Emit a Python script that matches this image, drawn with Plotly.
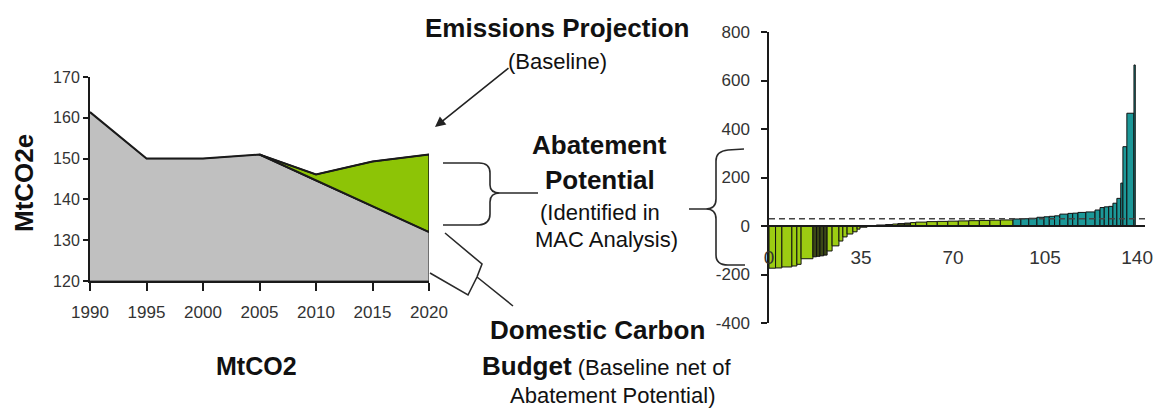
import plotly.graph_objects as go

W, H = 1164, 412

# ---------------- Emissions chart (left) ----------------
hist_years = [1990, 1995, 2000, 2005]
hist_emissions = [161.4, 150.0, 150.0, 151.0]

proj_years = [2005, 2010, 2015, 2020]
baseline_projection = [151.0, 146.1, 149.3, 151.0]
carbon_budget = [151.0, 144.6, 138.2, 132.0]

left_y_ticks = [120, 130, 140, 150, 160, 170]
left_x_ticks = [1990, 1995, 2000, 2005, 2010, 2015, 2020]

# ---------------- MAC curve (right) ----------------
# abatement volume (MtCO2e) and cost of each measure, in merit order
mac_width = [2.5, 2.4, 3.8, 1.9, 1.6, 4.5, 1.4, 1.3, 1.4, 1.3, 1.9, 2.6, 1.5, 1.6,
             2.2, 1.6, 1.1, 2.7,
             3.5, 3.5, 2.7, 2.0, 2.5, 2.3, 2.0,
             4.2, 4.0, 4.0, 4.0, 4.0, 4.0, 4.0, 4.0, 4.8,
             3.0, 3.0, 3.1, 2.7, 2.0, 2.0, 2.0, 3.1, 1.8, 2.0, 3.0, 3.5, 1.9,
             1.6, 1.7, 1.6, 1.5, 1.5, 0.8, 1.5, 2.7, 0.5]
mac_cost = [-174, -173, -169, -165, -158, -135, -127, -125, -123, -120, -103, -82, -62, -45,
            -33, -24, -13, -5,
            2, 4, 6, 8, 10, 12, 14,
            16, 18, 19, 20, 21, 22, 23, 24, 25,
            29, 30, 32, 36, 38, 40, 42, 49, 52, 53, 56, 58, 66,
            76, 79, 81, 94, 114, 177, 327, 465, 664]
mac_sector = ["g", "g", "g", "g", "g", "g", "d", "d", "d", "d", "g", "g", "g", "g",
              "g", "g", "g", "g",
              "d", "d", "d", "g", "d", "d", "g",
              "g", "g", "g", "g", "g", "g", "g", "g", "g",
              "t", "t", "t", "t", "t", "t", "t", "t", "t", "t", "t", "t", "t",
              "t", "t", "t", "t", "t", "t", "t", "t", "t"]
carbon_price = 30

mac_y_ticks = [-400, -200, 0, 200, 400, 600, 800]
mac_x_ticks = [0, 35, 70, 105, 140]

sector_colors = {"g": "#9ccc12", "d": "#3b4716", "t": "#1c9898"}

FONT = "Arial, Liberation Sans, Helvetica, sans-serif"
INK = "#1a1a1a"


def px(x):
    return x / W


def py(y):
    return 1 - y / H


fig = go.Figure()

# grey area: history then the domestic carbon budget
budget_x = hist_years + proj_years[1:]
budget_y = hist_emissions + carbon_budget[1:]
floor = left_y_ticks[0]
fig.add_trace(go.Scatter(
    x=budget_x + [budget_x[-1], budget_x[0]],
    y=budget_y + [floor, floor],
    fill="toself", fillcolor="#c0c0c0",
    line=dict(color="#3a3a3a", width=1.2),
    mode="lines", hoverinfo="skip", xaxis="x", yaxis="y"))

# green wedge: abatement potential between projection and budget
fig.add_trace(go.Scatter(
    x=proj_years + proj_years[::-1],
    y=baseline_projection + carbon_budget[::-1],
    fill="toself", fillcolor="#8dc406",
    line=dict(color=INK, width=1.5),
    mode="lines", hoverinfo="skip", xaxis="x", yaxis="y"))

# heavier outlines for the trajectories
fig.add_trace(go.Scatter(
    x=hist_years + proj_years[1:], y=hist_emissions + baseline_projection[1:],
    mode="lines", line=dict(color=INK, width=2), hoverinfo="skip",
    xaxis="x", yaxis="y"))
fig.add_trace(go.Scatter(
    x=proj_years, y=carbon_budget,
    mode="lines", line=dict(color=INK, width=2), hoverinfo="skip",
    xaxis="x", yaxis="y"))

# MAC curve bars
lefts = []
acc = 0.0
for w in mac_width:
    lefts.append(acc)
    acc += w
centers = [l + w / 2 for l, w in zip(lefts, mac_width)]
fig.add_trace(go.Bar(
    x=centers, y=mac_cost, width=mac_width,
    marker=dict(color=[sector_colors[s] for s in mac_sector],
                line=dict(color="#111111", width=1)),
    hoverinfo="skip", xaxis="x2", yaxis="y2"))

left_xdom = [px(90), px(429)]
left_ydom = [py(281), py(77)]
right_xdom = [px(769), px(1145)]
right_ydom = [py(323), py(32)]
zero_frac = right_ydom[0] + (right_ydom[1] - right_ydom[0]) * (0 - mac_y_ticks[0]) / (mac_y_ticks[-1] - mac_y_ticks[0])

fig.update_layout(
    width=W, height=H,
    margin=dict(l=0, r=0, t=0, b=0, autoexpand=False),
    paper_bgcolor="white", plot_bgcolor="white",
    showlegend=False, barmode="overlay",
    font=dict(family=FONT, color="#333333"),
    xaxis=dict(domain=left_xdom, range=[left_x_ticks[0], left_x_ticks[-1]],
               tickvals=left_x_ticks, ticks="outside", ticklen=8, tickwidth=2,
               tickcolor=INK, showline=True, linecolor=INK, linewidth=2,
               showgrid=False, zeroline=False, tickfont=dict(size=17, color="#333"),
               ticklabelstandoff=7, anchor="y", automargin=False),
    yaxis=dict(domain=left_ydom, range=[left_y_ticks[0], left_y_ticks[-1]],
               tickvals=left_y_ticks, ticks="outside", ticklen=5, tickwidth=2,
               tickcolor=INK, showline=True, linecolor=INK, linewidth=2,
               showgrid=False, zeroline=False, tickfont=dict(size=16, color="#333"),
               anchor="x", automargin=False),
    xaxis2=dict(domain=right_xdom, range=[0, 143], tickvals=mac_x_ticks,
                ticks="", showline=True, linecolor=INK, linewidth=1.5,
                showgrid=False, zeroline=False, anchor="free", position=zero_frac,
                tickfont=dict(size=19, color="#333"), ticklabelstandoff=14,
                automargin=False),
    yaxis2=dict(domain=right_ydom, range=[mac_y_ticks[0], mac_y_ticks[-1]],
                tickvals=mac_y_ticks, ticktext=[str(v) for v in mac_y_ticks],
                ticks="outside", ticklen=6, tickwidth=1.5, tickcolor=INK,
                showline=True, linecolor=INK, linewidth=1.5, showgrid=False,
                zeroline=False, tickfont=dict(size=17, color="#333"),
                ticklabelstandoff=8, anchor="x2", automargin=False),
)

# carbon price reference line
fig.add_shape(type="line", xref="x2", yref="y2", x0=0, x1=143,
              y0=carbon_price, y1=carbon_price, layer="above",
              line=dict(color="#444444", width=1.5, dash="6px,4px"))

shape_line = dict(color="#2a2a2a", width=1.6)


def P(x, y):
    return f"{px(x):.5f},{py(y):.5f}"


# brace pointing from the green wedge to its label
brace1 = (f"M {P(443,163)} L {P(479,163)} Q {P(490,163)} {P(490,173)} L {P(490,185)} "
          f"Q {P(490,193)} {P(500,193)} L {P(538,193)} "
          f"M {P(500,193)} Q {P(490,193)} {P(490,202)} L {P(490,214)} "
          f"Q {P(490,224)} {P(479,225)} L {P(443,225)}")
fig.add_shape(type="path", xref="paper", yref="paper", path=brace1, line=shape_line)

# brace spanning the MAC curve
brace2 = (f"M {P(689,209)} L {P(706,209)} Q {P(716,209)} {P(716,199)} L {P(716,161)} "
          f"Q {P(716,151)} {P(728,150)} L {P(744,149)} "
          f"M {P(706,209)} Q {P(716,209)} {P(716,219)} L {P(716,255)} "
          f"Q {P(716,265)} {P(728,265)} L {P(745,265)}")
fig.add_shape(type="path", xref="paper", yref="paper", path=brace2, line=shape_line)

# tilted brace for the domestic carbon budget
brace3 = (f"M {P(445,233)} L {P(482,264)} L {P(477,277)} L {P(468,295)} L {P(430,273)} "
          f"M {P(477,277)} L {P(513,306)}")
fig.add_shape(type="path", xref="paper", yref="paper", path=brace3, line=shape_line)

# arrow to the projection line
fig.add_annotation(x=px(435), y=py(127), xref="paper", yref="paper",
                   ax=75, ay=-60, text="", showarrow=True,
                   arrowhead=2, arrowsize=1.3, arrowwidth=1.6, arrowcolor="#222")


def label(text, x, y, size, bold=False, xanchor="center", angle=0):
    if bold:
        text = f"<b>{text}</b>"
    fig.add_annotation(x=px(x), y=py(y), xref="paper", yref="paper", text=text,
                       showarrow=False, xanchor=xanchor, yanchor="middle",
                       textangle=angle,
                       font=dict(family=FONT, size=size, color="#111111"))


label("Emissions Projection", 557, 28, 26, bold=True)
label("(Baseline)", 557, 61, 22)
label("Abatement", 600, 145, 26, bold=True)
label("Potential", 600, 180, 26, bold=True)
label("(Identified in", 600, 212, 22)
label("MAC Analysis)", 606, 240, 22)
label("Domestic Carbon", 597, 330, 26, bold=True)
label("<span style='font-size:26px'><b>Budget</b></span> (Baseline net of", 606, 366, 22)
label("Abatement Potential)", 612, 395, 22)
label("MtCO2e", 24, 183, 26, bold=True, angle=-90)
label("MtCO2", 256, 366, 25, bold=True)

fig.write_html("out.html")
